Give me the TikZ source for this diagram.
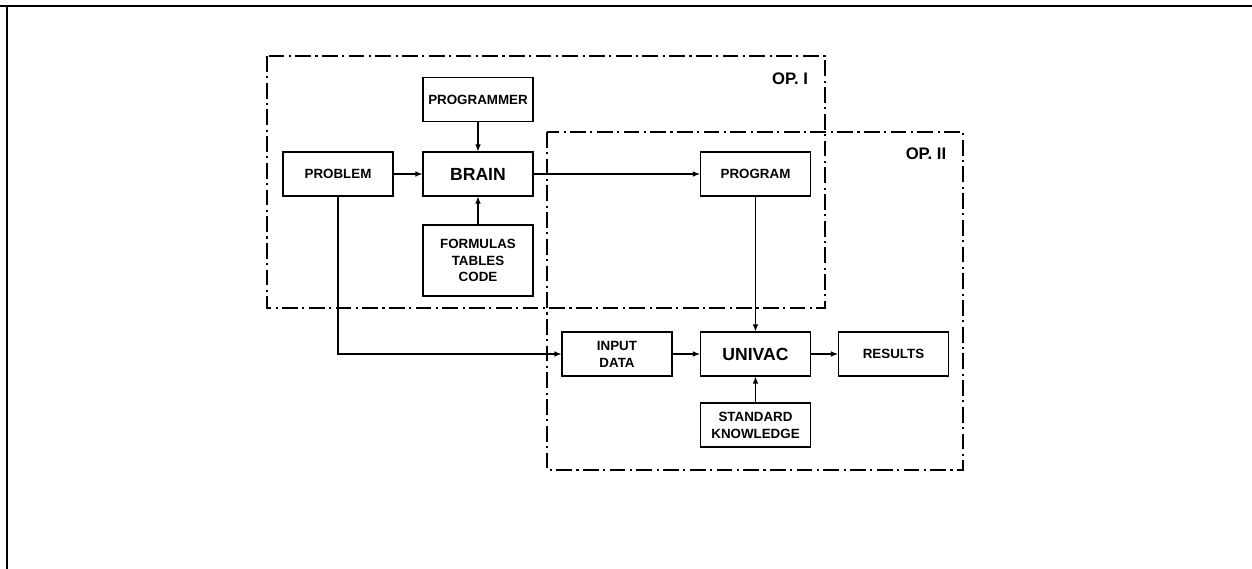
\documentclass[tikz,border=0pt]{standalone}
\usepackage{fontspec}
\setmainfont{Liberation Sans}
\usepackage{tikz}
\usetikzlibrary{arrows.meta,positioning}
\tikzset{block/.style={draw,line width=.6pt,minimum width=22mm,minimum height=8.8mm,inner sep=1pt,align=center,font=\fontsize{7.6}{9.6}\selectfont\bfseries},big block/.style={block,font=\fontsize{10}{12}\selectfont\bfseries},flow/.style={-{Latex[length=1.4mm,width=1.1mm]},line width=.6pt},op group/.style={line width=.6pt,dash pattern=on 9pt off 2.5pt on 1.2pt off 2.5pt},op label/.style={font=\fontsize{9.5}{11}\selectfont\bfseries},page rule/.style={line width=.8pt}}
\begin{document}
\begin{tikzpicture}[x=1cm,y=1cm]
 \useasboundingbox (0,0) rectangle (25.04,11.38);
 % edges of the scanned page
 \draw[page rule] (0,11.26) -- (25.04,11.26);
 \draw[page rule,line width=1.6pt] (0,11.26) -- (2.58,11.26);
 \draw[page rule,line width=1.6pt] (22.6,11.26) -- (25.04,11.26);
 \draw[page rule] (0.14,11.26) -- (0.14,0);
 % operation I
 \node[block] (problem) at (6.76,7.9) {PROBLEM};
 \node[big block] (brain) at (9.56,7.9) {BRAIN};
 \node[block] (programmer) at (9.56,9.39) {PROGRAMMER};
 \node[block,minimum height=14.2mm] (formulas) at (9.56,6.17) {FORMULAS\\TABLES\\CODE};
 \node[block] (program) at (15.11,7.9) {PROGRAM};
 % operation II
 \node[block] (input) at (12.34,4.3) {INPUT\\DATA};
 \node[big block] (univac) at (15.11,4.3) {UNIVAC};
 \node[block] (results) at (17.87,4.3) {RESULTS};
 \node[block] (knowledge) at (15.11,2.88) {STANDARD\\KNOWLEDGE};
 \draw[flow] (problem) -- (brain);
 \draw[flow] (programmer) -- (brain);
 \draw[flow] (formulas) -- (brain);
 \draw[flow] (brain) -- (program);
 \draw[flow] (program) -- (univac);
 \draw[flow] (problem.south) |- (input.west);
 \draw[flow] (input) -- (univac);
 \draw[flow] (univac) -- (results);
 \draw[flow] (knowledge) -- (univac);
 \draw[op group] (5.34,10.26) rectangle (16.5,5.22);
 \draw[op group] (10.94,8.74) rectangle (19.26,1.98);
 \node[op label] (opone) at (15.8,9.8) {OP. I};
 \node[op label] (optwo) at (18.52,8.3) {OP. II};
\end{tikzpicture}
\end{document}
